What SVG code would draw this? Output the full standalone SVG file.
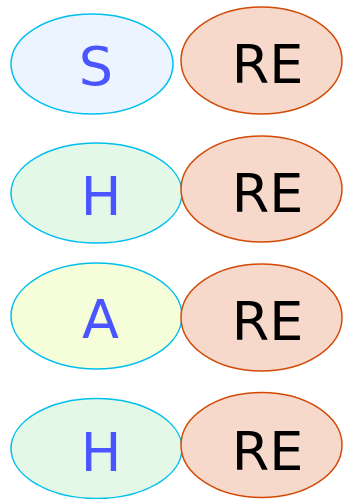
<svg xmlns="http://www.w3.org/2000/svg" width="343" height="499" viewBox="0 0 343 499">
<style>
.l{stroke:#00bfef;stroke-width:1.5}
.r{fill:#f7d9cb;stroke:#d24a06;stroke-width:1.5}
.t{font-family:"DejaVu Sans",sans-serif;font-size:54px;text-anchor:middle}
.b{fill:#4a55ff}
.k{fill:#000}
</style>
<rect width="343" height="499" fill="#fff"/>
<g id="s"><ellipse class="l" cx="92" cy="64" rx="81" ry="50" fill="#ebf4ff"/><text class="t b" x="96" y="85">S</text></g>
<g id="re1"><ellipse class="r" cx="261.5" cy="60.5" rx="80.5" ry="53.5"/><text class="t k" x="267.5" y="83">RE</text></g>
<g id="h1"><ellipse class="l" cx="96.5" cy="193" rx="85.5" ry="50" fill="#e3f8e6"/><text class="t b" x="101" y="215">H</text></g>
<g id="re2"><ellipse class="r" cx="261.5" cy="189" rx="80.5" ry="53"/><text class="t k" x="267.5" y="212">RE</text></g>
<g id="a"><ellipse class="l" cx="96.5" cy="316" rx="85.5" ry="53" fill="#f5fdd9"/><text class="t b" x="100.5" y="338">A</text></g>
<g id="re3"><ellipse class="r" cx="261.5" cy="317.5" rx="80.5" ry="53.5"/><text class="t k" x="267.5" y="340">RE</text></g>
<g id="h2"><ellipse class="l" cx="96.5" cy="448.5" rx="85.5" ry="50" fill="#e3f8e6"/><text class="t b" x="101" y="471">H</text></g>
<g id="re4"><ellipse class="r" cx="261.5" cy="445" rx="80.5" ry="52.5"/><text class="t k" x="267.5" y="470">RE</text></g>
<g id="connectors"/>
</svg>
